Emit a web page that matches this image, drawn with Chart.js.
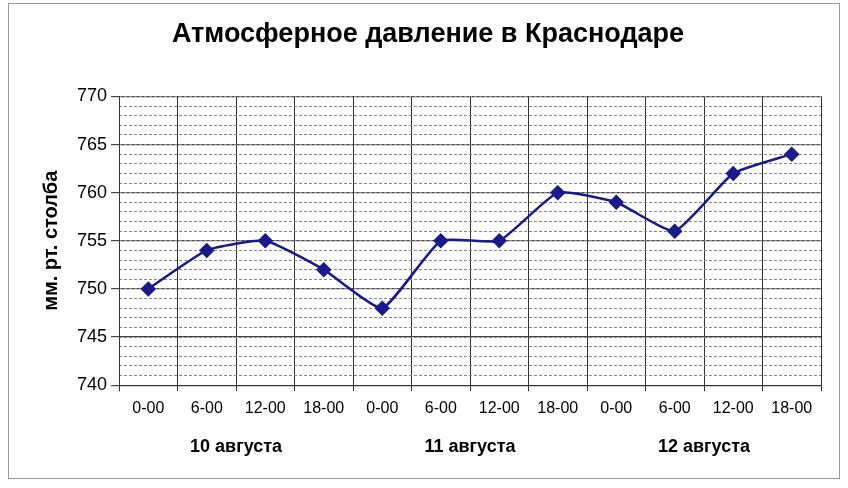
<!DOCTYPE html>
<html><head><meta charset="utf-8">
<script src="https://cdn.jsdelivr.net/npm/chart.js@4"></script>
<style>
html,body{margin:0;background:#fff}
#wrap{position:absolute;left:8px;top:3px;width:832px;height:476px;border:1px solid #999;box-sizing:border-box}
</style></head><body>
<div id="wrap"><canvas id="c" width="830" height="474"></canvas></div>
<script>
const times = ['0-00','6-00','12-00','18-00','0-00','6-00','12-00','18-00','0-00','6-00','12-00','18-00'];
const days = ['10 августа','11 августа','12 августа'];
const pressure = [750, 754, 755, 752, 748, 755, 755, 760, 759, 756, 762, 764];
const font = 'Arial, "Liberation Sans", sans-serif';

new Chart(document.getElementById('c'), {
  type: 'line',
  data: {
    labels: times.map((t, i) => i),
    datasets: [{
      data: pressure,
      borderColor: '#1a1a8c',
      backgroundColor: '#1a1a8c',
      borderWidth: 2.5,
      pointStyle: 'rectRot',
      pointRadius: 6,
      tension: 0.15
    }]
  },
  options: {
    responsive: false,
    animation: false,
    layout: { padding: { left: 26, right: 18, top: 8, bottom: 18 } },
    plugins: {
      legend: { display: false },
      tooltip: { enabled: false },
      title: { display: true, text: 'Атмосферное давление в Краснодаре', color: '#000',
        font: { family: font, size: 27, weight: 'bold' }, padding: { top: 6, bottom: 46 } }
    },
    scales: {
      x: {
        type: 'category', offset: true,
        grid: { offset: true, color: '#333', lineWidth: 1, tickLength: 6 },
        border: { color: '#333' },
        ticks: { color: '#000', font: { family: font, size: 16 }, maxRotation: 0, autoSkip: false,
          callback: (v, i) => times[i], padding: 8 }
      },
      x2: {
        type: 'category', labels: days, offset: true, position: 'bottom',
        grid: { display: false }, border: { display: false },
        ticks: { color: '#000', font: { family: font, size: 18, weight: 'bold' }, padding: 2 }
      },
      y: {
        min: 740, max: 770,
        ticks: { stepSize: 5, color: '#000', font: { family: font, size: 18 }, padding: 4 },
        grid: { color: '#444', lineWidth: 1.2, tickLength: 8 },
        border: { color: '#333' },
        title: { display: true, text: 'мм. рт. столба', color: '#000',
          font: { family: font, size: 20, weight: 'bold' }, padding: { bottom: 10 } }
      },
      y2: {
        min: 740, max: 770, position: 'left',
        ticks: { stepSize: 1, display: false },
        grid: { color: '#888', lineWidth: 1, drawTicks: false },
        border: { display: false, dash: [3, 2] }
      }
    }
  }
});
</script></body></html>
